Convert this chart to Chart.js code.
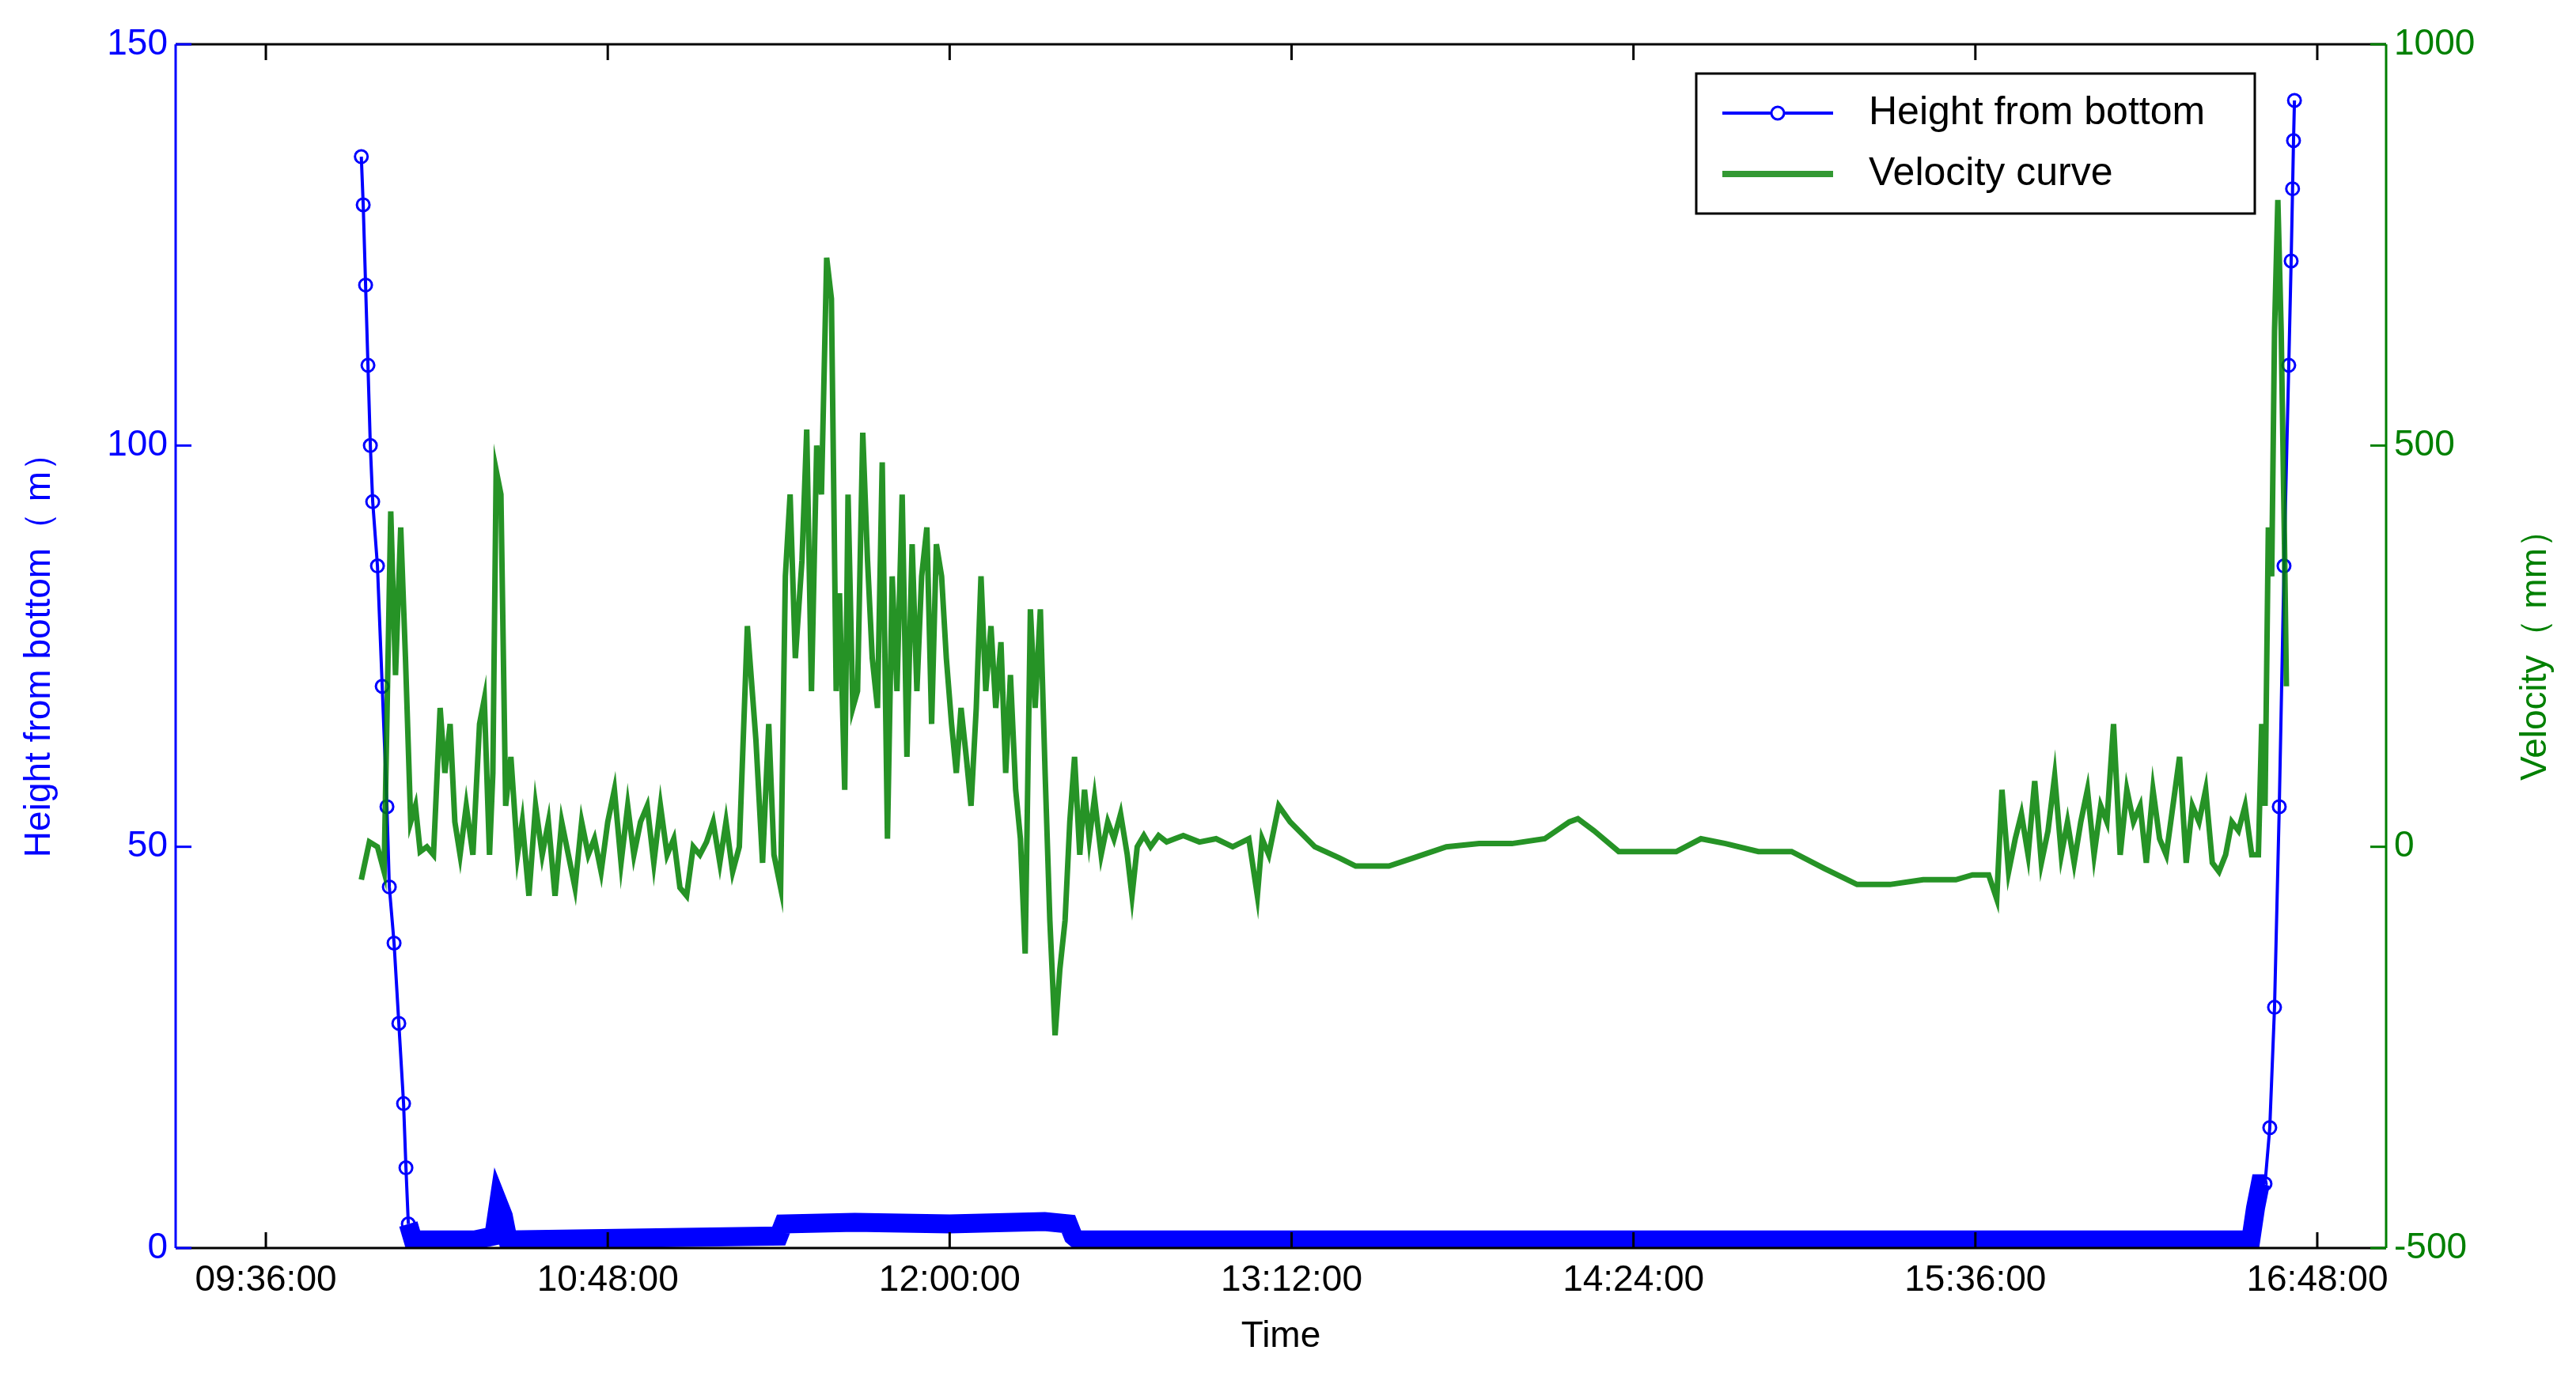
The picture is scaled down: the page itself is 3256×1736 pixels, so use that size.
<!DOCTYPE html>
<html>
<head>
<meta charset="utf-8">
<script src="https://cdn.jsdelivr.net/npm/chart.js@4/dist/chart.umd.min.js"></script>
<style>
body { margin: 0; background: #fff; }
#wrap { width: 3256px; height: 1736px; }
</style>
</head>
<body>
<div id="wrap"><canvas id="chartMain"></canvas></div>
<script>
// time in minutes after midnight
var tickTimes = [576, 648, 720, 792, 864, 936, 1008];
var tickLabels = ["09:36:00", "10:48:00", "12:00:00", "13:12:00", "14:24:00", "15:36:00", "16:48:00"];

var heightTime = [596.1, 596.5, 597, 597.5, 598, 598.5, 599.5, 600.5, 601.5, 602, 603, 604, 605, 605.5, 606, 607, 620, 624, 625, 626, 627, 684, 685, 700, 720, 740, 745, 746, 747, 994, 995, 996, 997, 998, 999, 1000, 1001, 1002, 1002.5, 1002.8, 1003, 1003.2];
var heightVal = [136, 130, 120, 110, 100, 93, 85, 70, 55, 45, 38, 28, 18, 10, 3, 1, 1, 1.5, 5.5, 4, 1, 1.5, 3, 3.2, 3, 3.3, 3, 1.5, 1, 1, 5, 8, 8, 15, 30, 55, 85, 110, 123, 132, 138, 143];

var velTime = [596.1, 597.8, 599.5, 600.9, 602.3, 603.3, 604.4, 605.4, 606.5, 607.5, 608.5, 609.9, 611.3, 612.7, 613.7, 614.8, 615.8, 616.9, 618.2, 619.6, 621.0, 622.0, 623.1, 623.8, 624.5, 625.5, 626.5, 627.6, 629.0, 630.0, 631.4, 632.8, 634.2, 635.5, 636.9, 638.3, 639.7, 641.1, 642.5, 643.9, 645.2, 646.6, 648.0, 649.4, 650.8, 652.2, 653.5, 654.9, 656.3, 657.7, 659.1, 660.5, 661.9, 663.2, 664.6, 666.0, 667.4, 668.8, 670.2, 671.6, 672.9, 674.3, 675.7, 677.4, 679.2, 680.6, 681.9, 683.0, 684.4, 685.4, 686.4, 687.5, 688.9, 689.9, 690.9, 692.0, 693.0, 694.1, 695.1, 696.1, 696.8, 697.9, 698.6, 699.6, 700.6, 701.7, 702.7, 703.7, 704.8, 705.8, 706.9, 707.9, 708.9, 710.0, 711.0, 712.1, 713.1, 714.1, 715.2, 716.2, 717.2, 718.3, 719.3, 720.4, 721.4, 722.4, 723.5, 724.5, 725.6, 726.6, 727.6, 728.7, 729.7, 730.8, 731.8, 732.8, 733.9, 734.9, 735.9, 737.0, 738.0, 739.1, 740.1, 741.1, 742.2, 743.2, 744.3, 745.3, 746.3, 747.4, 748.4, 749.4, 750.5, 751.9, 753.3, 754.6, 756.0, 757.4, 758.4, 759.5, 760.9, 762.3, 764.0, 765.7, 767.4, 769.2, 772.6, 776.1, 779.6, 783.0, 784.8, 785.8, 787.2, 789.3, 791.7, 796.9, 802.1, 805.5, 812.5, 817.6, 824.6, 831.5, 838.4, 845.3, 850.5, 852.3, 855.7, 860.9, 866.1, 873.0, 878.2, 883.4, 890.3, 897.3, 904.2, 911.1, 918.0, 925.0, 931.9, 935.4, 938.8, 940.5, 941.6, 943.0, 944.4, 945.7, 947.1, 948.5, 949.9, 951.3, 952.7, 954.1, 955.4, 956.8, 958.2, 959.6, 961.0, 962.4, 963.7, 965.1, 966.5, 967.9, 969.3, 970.7, 972.0, 973.4, 974.8, 976.2, 977.6, 979.0, 980.4, 981.7, 983.1, 984.5, 985.9, 987.3, 988.7, 990.0, 991.4, 992.8, 994.2, 995.6, 996.3, 997.0, 997.7, 998.4, 999.0, 999.7, 1000.4, 1001.1, 1001.5];
var velVal = [-41, 6, 0, -31, 418, 214, 398, 235, 31, 51, -6, 0, -10, 173, 92, 153, 31, -10, 51, -10, 153, 184, -10, 92, 469, 439, 51, 112, -10, 31, -61, 51, -10, 31, -61, 31, -10, -51, 31, -10, 10, -31, 31, 71, -20, 51, -10, 31, 51, -20, 51, -10, 10, -51, -61, 0, -10, 6, 31, -20, 31, -31, 0, 275, 133, -20, 153, -10, -51, 337, 439, 235, 357, 520, 194, 500, 439, 734, 683, 194, 316, 71, 439, 173, 194, 516, 357, 235, 173, 479, 10, 337, 194, 439, 112, 377, 194, 337, 398, 153, 377, 337, 235, 153, 92, 173, 112, 51, 173, 337, 194, 275, 173, 255, 92, 214, 71, 10, -133, 296, 173, 296, 92, -92, -235, -153, -92, 31, 112, -10, 71, 10, 61, -10, 31, 10, 41, -10, -61, 0, 14, 0, 14, 6, 10, 14, 6, 10, 0, 10, -61, 10, -10, 51, 31, 0, -14, -24, -24, -14, 0, 4, 4, 10, 31, 35, 20, -6, -6, -6, 10, 4, -6, -6, -27, -47, -47, -41, -41, -35, -35, -65, 71, -31, 10, 41, -10, 82, -20, 20, 88, -10, 31, -20, 31, 71, -10, 51, 31, 153, -10, 71, 31, 51, -20, 71, 10, -10, 51, 112, -20, 51, 31, 71, -20, -31, -10, 31, 20, 51, -10, -10, 153, 51, 398, 337, 643, 806, 643, 377, 200];

var blue = "#0000ff";
var green = "#008000";
var font = "'Liberation Sans', Arial, sans-serif";

var heightPts = heightTime.map(function (t, i) { return { x: t, y: heightVal[i] }; });
var velPts = velTime.map(function (t, i) { return { x: t, y: velVal[i] }; });

/*Frame, inward ticks, axis titles and legend*/
var framePlugin = {
    id: "frame",
    afterDraw: function (chart) {
        var ctx = chart.ctx, a = chart.chartArea;
        var sx = chart.scales.x, sl = chart.scales.yL, sr = chart.scales.yR;
        ctx.save();
        ctx.lineWidth = 3;
        ctx.strokeStyle = "#000";
        ctx.beginPath();
        ctx.moveTo(a.left, a.top); ctx.lineTo(a.right, a.top);
        ctx.moveTo(a.left, a.bottom); ctx.lineTo(a.right, a.bottom);
        ctx.stroke();
        tickTimes.forEach(function (t) {
            var px = sx.getPixelForValue(t);
            ctx.beginPath();
            ctx.moveTo(px, a.bottom); ctx.lineTo(px, a.bottom - 20);
            ctx.moveTo(px, a.top); ctx.lineTo(px, a.top + 20);
            ctx.stroke();
        });
        ctx.strokeStyle = blue;
        ctx.beginPath(); ctx.moveTo(a.left, a.top); ctx.lineTo(a.left, a.bottom); ctx.stroke();
        [0, 50, 100, 150].forEach(function (v) {
            var py = sl.getPixelForValue(v);
            ctx.beginPath(); ctx.moveTo(a.left, py); ctx.lineTo(a.left + 20, py); ctx.stroke();
        });
        ctx.strokeStyle = green;
        ctx.beginPath(); ctx.moveTo(a.right, a.top); ctx.lineTo(a.right, a.bottom); ctx.stroke();
        [-500, 0, 500, 1000].forEach(function (v) {
            var py = sr.getPixelForValue(v);
            ctx.beginPath(); ctx.moveTo(a.right, py); ctx.lineTo(a.right - 20, py); ctx.stroke();
        });
        // titles
        ctx.font = "46px " + font;
        ctx.textAlign = "center";
        ctx.textBaseline = "middle";
        ctx.fillStyle = "#000";
        ctx.fillText("Time", (a.left + a.right) / 2, 1690);
        ctx.save();
        ctx.translate(50, (a.top + a.bottom) / 2);
        ctx.rotate(-Math.PI / 2);
        ctx.fillStyle = blue;
        ctx.fillText("Height from bottom（ m）", 0, 0);
        ctx.restore();
        ctx.save();
        ctx.translate(3205, (a.top + a.bottom) / 2);
        ctx.rotate(-Math.PI / 2);
        ctx.fillStyle = green;
        ctx.fillText("Velocity（ mm）", 0, 0);
        ctx.restore();
        // legend
        var lx = 2144, ly = 93, lw = 706, lh = 177;
        ctx.fillStyle = "#fff";
        ctx.fillRect(lx, ly, lw, lh);
        ctx.strokeStyle = "#000";
        ctx.lineWidth = 3;
        ctx.strokeRect(lx, ly, lw, lh);
        ctx.lineWidth = 4;
        ctx.strokeStyle = blue;
        ctx.beginPath(); ctx.moveTo(lx + 33, ly + 50); ctx.lineTo(lx + 173, ly + 50); ctx.stroke();
        ctx.lineWidth = 3;
        ctx.beginPath(); ctx.arc(lx + 103, ly + 50, 8, 0, Math.PI * 2); ctx.fillStyle = "#fff"; ctx.fill(); ctx.stroke();
        ctx.lineWidth = 8;
        ctx.strokeStyle = "rgba(0,128,0,0.8)";
        ctx.beginPath(); ctx.moveTo(lx + 33, ly + 127); ctx.lineTo(lx + 173, ly + 127); ctx.stroke();
        ctx.fillStyle = "#000";
        ctx.textAlign = "left";
        ctx.font = "50px " + font;
        ctx.fillText("Height from bottom", lx + 218, ly + 50);
        ctx.fillText("Velocity curve", lx + 218, ly + 127);
        ctx.restore();
    }
};

var chartDiv = document.getElementById("chartMain");
var myChart = new Chart(chartDiv, {
    type: "line",
    data: {
        datasets: [
            {
                label: "Velocity curve",
                data: velPts,
                yAxisID: "yR",
                borderColor: "rgba(0,128,0,0.85)",
                borderWidth: 7,
                pointRadius: 0,
                tension: 0
            },
            {
                label: "Height from bottom",
                data: heightPts,
                yAxisID: "yL",
                borderColor: blue,
                borderWidth: 4,
                pointRadius: 8,
                pointBorderWidth: 3,
                pointBorderColor: blue,
                pointBackgroundColor: "rgba(255,255,255,0)",
                tension: 0,
                segment: {
                    borderWidth: function (c) {
                        return (c.p0.parsed.y < 10 && c.p1.parsed.y < 10) ? 24 : 4;
                    }
                }
            }
        ]
    },
    options: {
        responsive: true,
        maintainAspectRatio: false,
        animation: false,
        parsing: false,
        layout: { padding: { top: 56, bottom: 0 } },
        plugins: { legend: { display: false }, tooltip: { enabled: false } },
        scales: {
            x: {
                type: "linear",
                min: 557,
                max: 1022.5,
                afterBuildTicks: function (s) { s.ticks = tickTimes.map(function (v) { return { value: v }; }); },
                afterFit: function (s) { s.height = 158; },
                grid: { display: false, drawTicks: false },
                border: { display: false },
                ticks: {
                    color: "#000",
                    font: { size: 46, family: font },
                    padding: 14,
                    maxRotation: 0,
                    callback: function (v) { return tickLabels[tickTimes.indexOf(v)]; }
                }
            },
            yL: {
                position: "left",
                min: 0,
                max: 150,
                afterBuildTicks: function (s) { s.ticks = [0, 50, 100, 150].map(function (v) { return { value: v }; }); },
                afterFit: function (s) { s.width = 222; },
                grid: { display: false, drawTicks: false },
                border: { display: false },
                ticks: { color: blue, font: { size: 46, family: font }, padding: 10 }
            },
            yR: {
                position: "right",
                min: -500,
                max: 1000,
                afterBuildTicks: function (s) { s.ticks = [-500, 0, 500, 1000].map(function (v) { return { value: v }; }); },
                afterFit: function (s) { s.width = 240; },
                grid: { display: false, drawTicks: false },
                border: { display: false },
                ticks: {
                    color: green,
                    font: { size: 46, family: font },
                    padding: 10,
                    callback: function (v) { return String(v); }
                }
            }
        }
    },
    plugins: [framePlugin]
});
</script>
</body>
</html>
